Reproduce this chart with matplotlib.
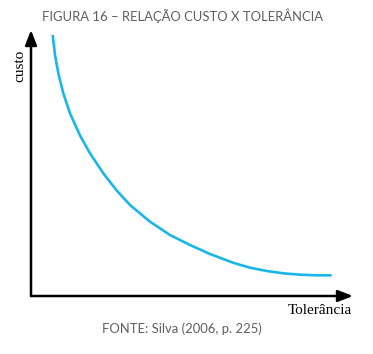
import matplotlib
matplotlib.use("Agg")
import matplotlib.pyplot as plt

# Data (arbitrary units, 0-100 on both axes)
tolerancia = [6.74, 7.45, 8.48, 10.03, 12.11, 15.22, 18.32, 22.45, 26.61, 30.75, 36.96,
              43.17, 49.38, 55.59, 62.83, 68.01, 73.20, 78.35, 83.54, 88.73, 93.38]
custo = [98.12, 90.60, 83.72, 76.20, 68.68, 60.34, 53.65, 46.13, 39.66, 34.21, 27.93,
         22.93, 19.17, 15.79, 12.48, 10.64, 9.40, 8.53, 8.01, 7.78, 7.78]

title = "FIGURA 16 – RELAÇÃO CUSTO X TOLERÂNCIA"
source = "FONTE: Silva (2006, p. 225)"
xlabel = "Tolerância"
ylabel = "custo"

W, H = 373, 354
fig = plt.figure(figsize=(W / 100, H / 100), dpi=100)
fig.patch.set_facecolor("white")

x0, x1 = 31, 353
y0, y1 = 296, 30
ax = fig.add_axes([x0 / W, (H - y0) / H, (x1 - x0) / W, (y0 - y1) / H])
ax.set_xlim(0, 100)
ax.set_ylim(0, 100)
ax.axis("off")

ax.plot(tolerancia, custo, color="#1ab6ea", lw=1.9, solid_capstyle="butt",
        solid_joinstyle="round")

arrow = dict(arrowstyle="-|>,head_length=0.9,head_width=0.35", color="black", lw=1.8,
             shrinkA=0, shrinkB=0)
ax.annotate("", xy=(1, 0), xytext=(0, 0), xycoords="axes fraction", arrowprops=arrow)
ax.annotate("", xy=(0, 1), xytext=(0, 0), xycoords="axes fraction", arrowprops=arrow)

fig.text(182 / W, 1 - 16 / H, title, ha="center", va="center", fontsize=9.4,
         family="Lato", color="#5e5e5e")
fig.text(182 / W, 1 - 329 / H, source, ha="center", va="center", fontsize=9.4,
         family="Lato", color="#5e5e5e")
fig.text(352 / W, 1 - 311 / H, xlabel, ha="right", va="center", fontsize=11,
         family="Liberation Serif", color="black")
fig.text(19.5 / W, 1 - 66 / H, ylabel, ha="center", va="center", fontsize=11,
         family="Liberation Serif", color="black", rotation=90)

fig.savefig("out.png", dpi=100, facecolor="white")
